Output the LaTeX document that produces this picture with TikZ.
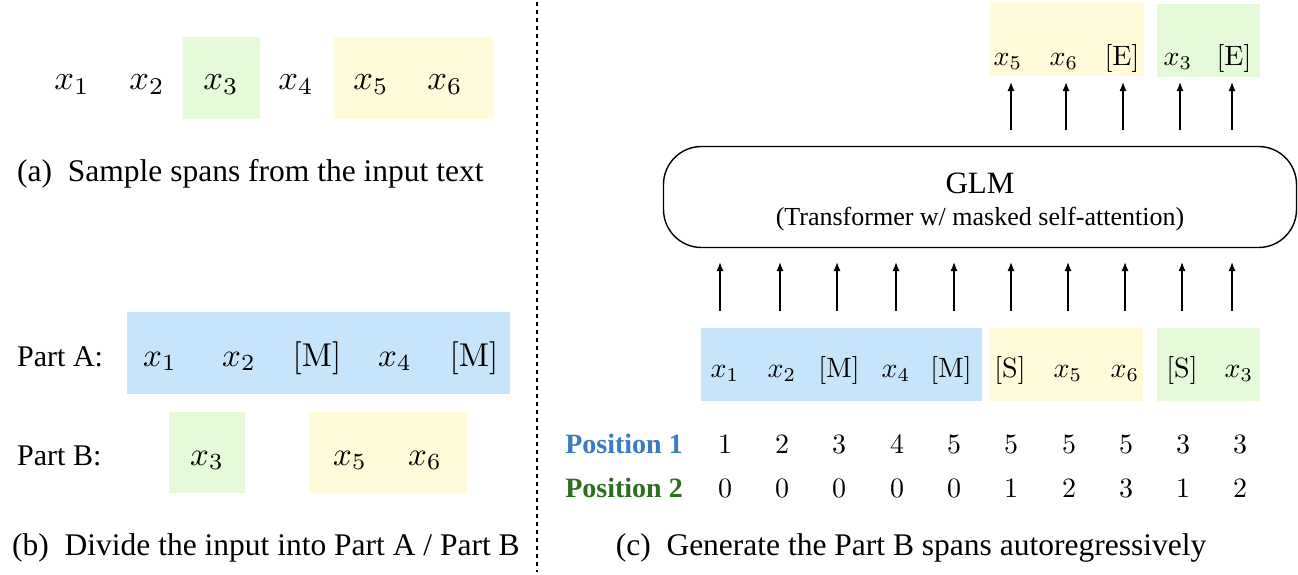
\RequirePackage{fix-cm}
\documentclass[tikz,border=0pt]{standalone}
\usepackage[no-math]{fontspec}
\setmainfont{Liberation Serif}
\usetikzlibrary{arrows.meta}
\definecolor{cblue}{HTML}{C7E5FA}
\definecolor{cyellow}{HTML}{FFFBD9}
\definecolor{cgreen}{HTML}{E4FAD9}
\definecolor{pblue}{HTML}{3B7BC1}
\definecolor{pgreen}{HTML}{2E6E21}
\newcommand{\tkA}[1]{\scalebox{3.45}{$#1$}}
\newcommand{\tkB}[1]{\scalebox{3.3}{$#1$}}
\newcommand{\tkC}[1]{\scalebox{2.8}{$#1$}}
\begin{document}
\begin{tikzpicture}[x=1pt,y=-1pt,
  tok/.style={font=\fontsize{10}{12}\selectfont, inner sep=0pt, anchor=base},
  captext/.style={font=\fontsize{31.5}{38}\selectfont, inner sep=0pt},
  partlab/.style={font=\fontsize{30}{36}\selectfont, inner sep=0pt, anchor=base west},
  poslab/.style={font=\fontsize{28}{34}\selectfont\bfseries, inner sep=0pt, anchor=base east},
  arr/.style={-{Latex[length=9pt,width=7pt]}, line width=1.3pt},
  glmbox/.style={draw, line width=1.4pt, rounded corners=38pt}]
\useasboundingbox (0,0) rectangle (1298,574);

% ---------------- (a) ----------------
\fill[cgreen] (183,37) rectangle (260,119);
\fill[cyellow] (334,37) rectangle (493,119);
\node[tok] (a1) at (72,89) {\tkA{x_1}};
\node[tok] (a2) at (147,89) {\tkA{x_2}};
\node[tok] (a3) at (221,89) {\tkA{x_3}};
\node[tok] (a4) at (296,89) {\tkA{x_4}};
\node[tok] (a5) at (371,89) {\tkA{x_5}};
\node[tok] (a6) at (445,89) {\tkA{x_6}};
\node[captext, anchor=base west] (capa) at (17,181) {(a)\hspace{0.5em}Sample spans from the input text};

% ---------------- (b) ----------------
\fill[cblue] (127,312) rectangle (510,394);
\fill[cgreen] (169,412) rectangle (245,493);
\fill[cyellow] (309,412) rectangle (467,493);
\node[partlab] (pa) at (17,366) {Part A:};
\node[partlab] (pb) at (17,465) {Part B:};
\node[tok] (b1) at (160,366) {\tkB{x_1}};
\node[tok] (b2) at (239,366) {\tkB{x_2}};
\node[tok] (b3) at (317,366) {\tkB{\mathrm{[M]}}};
\node[tok] (b4) at (395,366) {\tkB{x_4}};
\node[tok] (b5) at (474,366) {\tkB{\mathrm{[M]}}};
\node[tok] (b6) at (207,465) {\tkB{x_3}};
\node[tok] (b7) at (350,465) {\tkB{x_5}};
\node[tok] (b8) at (425,465) {\tkB{x_6}};
\node[captext, anchor=base west] (capb) at (12,555) {(b)\hspace{0.5em}Divide the input into Part A / Part B};

% separator
\coordinate (sepT) at (537,2);
\coordinate (sepB) at (537,572);
\draw[line width=2.2pt, dash pattern=on 4pt off 4pt] (sepT) -- (sepB);

% ---------------- (c) ----------------
% outputs
\fill[cyellow] (990,2) rectangle (1144,76);
\fill[cgreen] (1157,4) rectangle (1260,77);
\node[tok] (o1) at (1008,65) {\tkC{x_5}};
\node[tok] (o2) at (1064,65) {\tkC{x_6}};
\node[tok] (o3) at (1122,65) {\tkC{\mathrm{[E]}}};
\node[tok] (o4) at (1178,65) {\tkC{x_3}};
\node[tok] (o5) at (1234,65) {\tkC{\mathrm{[E]}}};

% GLM box
\node[glmbox, minimum width=633pt, minimum height=101pt] (glm) at (980,197) {};
\node[font=\fontsize{31}{37}\selectfont, inner sep=0pt, anchor=base] (glmt) at (980,193) {GLM};
\node[font=\fontsize{26}{31}\selectfont, inner sep=0pt, anchor=base] (glms) at (980,225) {(Transformer w/ masked self-attention)};

% output arrows
\foreach \i/\x in {1/1011,2/1066,3/1123,4/1180,5/1232}{
  \coordinate (ot\i) at (\x,130);
  \coordinate (oh\i) at (\x,82);
  \draw[arr] (ot\i) -- (oh\i);
}

% inputs
\fill[cblue] (701,328) rectangle (982,401);
\fill[cyellow] (989,328) rectangle (1143,401);
\fill[cgreen] (1157,328) rectangle (1260,401);
\node[tok] (c1) at (725,377) {\tkC{x_1}};
\node[tok] (c2) at (782,377) {\tkC{x_2}};
\node[tok] (c3) at (839,377) {\tkC{\mathrm{[M]}}};
\node[tok] (c4) at (896,377) {\tkC{x_4}};
\node[tok] (c5) at (951,377) {\tkC{\mathrm{[M]}}};
\node[tok] (c6) at (1010,377) {\tkC{\mathrm{[S]}}};
\node[tok] (c7) at (1068,377) {\tkC{x_5}};
\node[tok] (c8) at (1125,377) {\tkC{x_6}};
\node[tok] (c9) at (1182,377) {\tkC{\mathrm{[S]}}};
\node[tok] (c10) at (1239,377) {\tkC{x_3}};

% input arrows
\foreach \i/\x in {1/720,2/780,3/837,4/896,5/954,6/1011,7/1068,8/1125,9/1182,10/1232}{
  \coordinate (it\i) at (\x,311);
  \coordinate (ih\i) at (\x,262);
  \draw[arr] (it\i) -- (ih\i);
}

% positions
\node[poslab, text=pblue] (p1) at (683,453) {Position 1};
\node[poslab, text=pgreen] (p2) at (683,497) {Position 2};
\foreach \i/\x/\u/\v in {1/725/1/0,2/782/2/0,3/839/3/0,4/897/4/0,5/954/5/0,6/1011/5/1,7/1069/5/2,8/1126/5/3,9/1183/3/1,10/1240/3/2}{
  \node[tok] (n\i) at (\x,453) {\tkC{\u}};
  \node[tok] (m\i) at (\x,497) {\tkC{\v}};
}

\node[captext, anchor=base] (capc) at (911,555) {(c)\hspace{0.5em}Generate the Part B spans autoregressively};
\end{tikzpicture}
\end{document}
